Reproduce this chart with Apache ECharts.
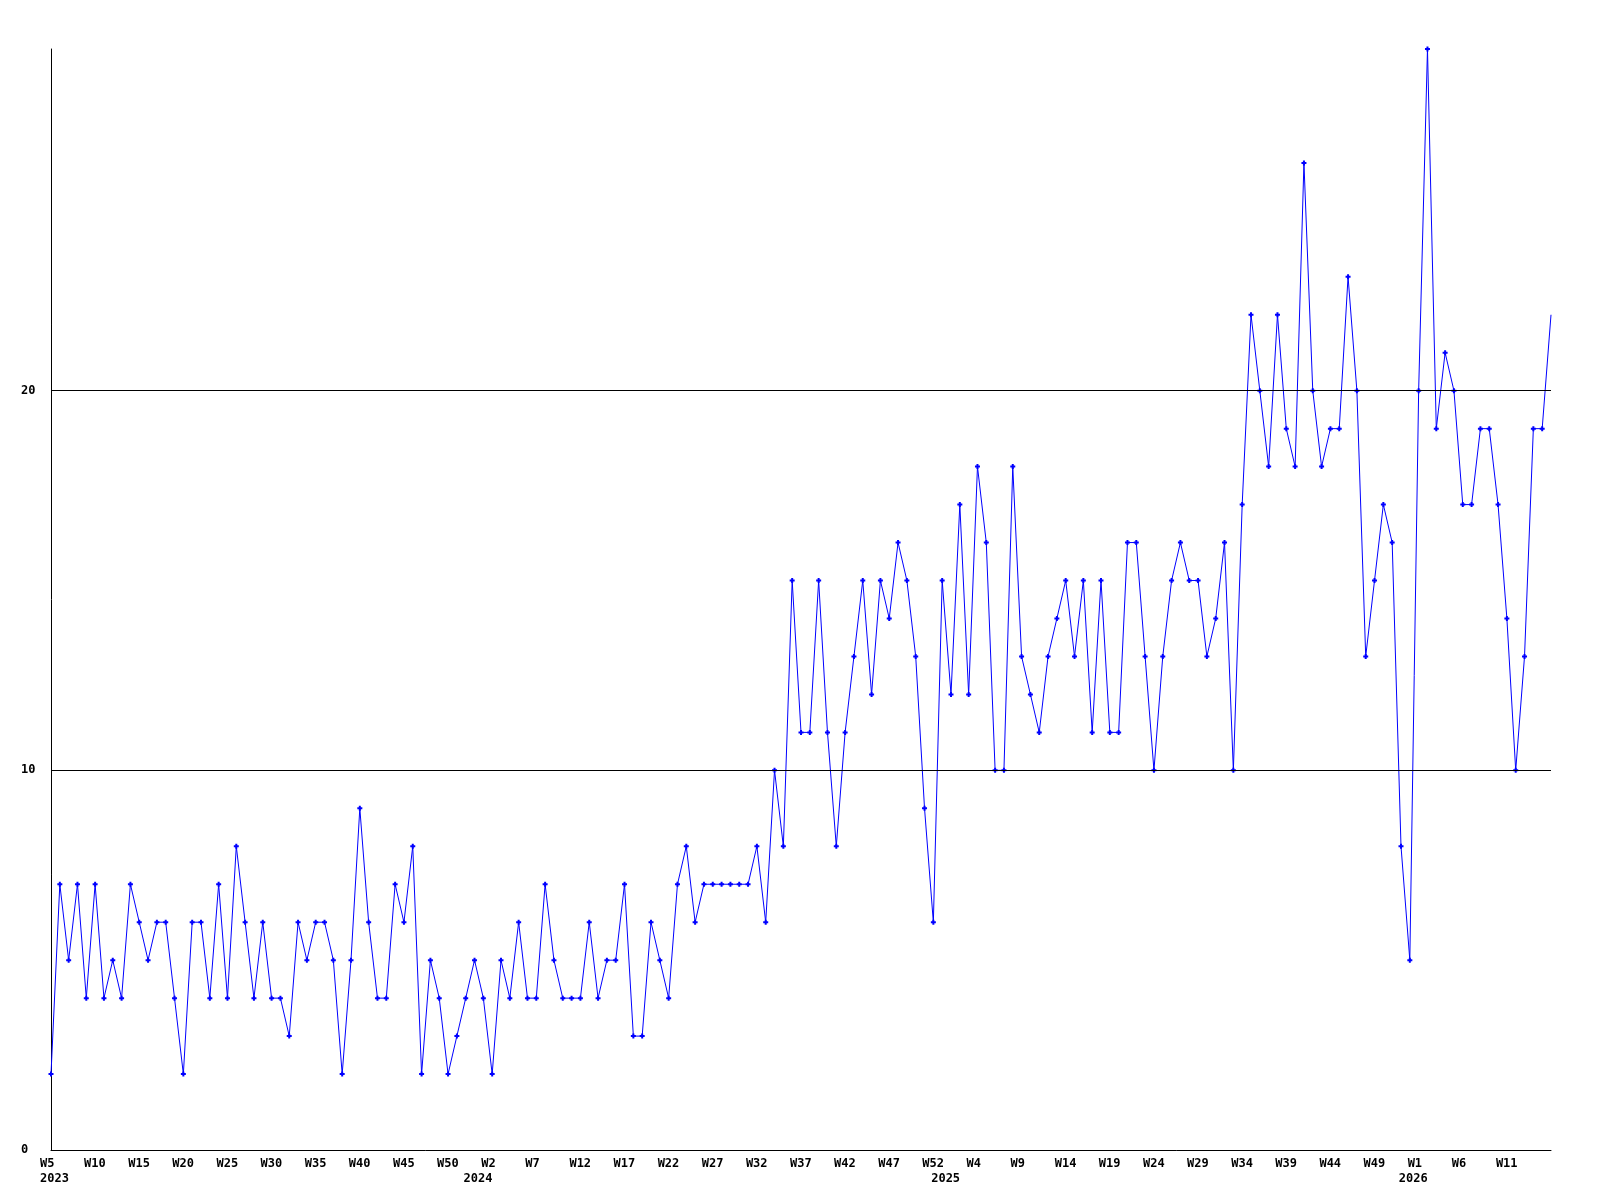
<!DOCTYPE html>
<html>
<head>
<meta charset="utf-8">
<script src="https://cdn.jsdelivr.net/npm/echarts@6/dist/echarts.min.js"></script>
<style>
html,body{margin:0;padding:0;background:#fff;}
#chart{width:1600px;height:1200px;}
</style>
</head>
<body>
<div id="chart"></div>
<script>
// Week ranges per year: [year, firstWeek, lastWeek]
const yearWeekRanges = [[2023, 5, 52], [2024, 0, 52], [2025, 0, 52], [2026, 0, 16]];

// Weekly values, in order from 2023 W5 to 2026 W16
const values2023 = [2,7,5,7,4,7,4,5,4,7,6,5,6,6,4,2,6,6,4,7,4,8,6,4,6,4,4,3,6,5,6,6,5,2,5,9,6,4,4,7,6,8,2,5,4,2,3,4];
const values2024 = [5,4,2,5,4,6,4,4,7,5,4,4,4,6,4,5,5,7,3,3,6,5,4,7,8,6,7,7,7,7,7,7,8,6,10,8,15,11,11,15,11,8,11,13,15,12,15,14,16,15,13,9,6];
const values2025 = [15,12,17,12,18,16,10,10,18,13,12,11,13,14,15,13,15,11,15,11,11,16,16,13,10,13,15,16,15,15,13,14,16,10,17,22,20,18,22,19,18,26,20,18,19,19,23,20,13,15,17,16,8];
const values2026 = [5,20,29,19,21,20,17,17,19,19,17,14,10,13,19,19,22];

// y-axis tick labels
const yTicks = [0, 10, 20];

const categories = [];
const yearStartIndex = {};
yearWeekRanges.forEach(([y, a, b]) => {
  yearStartIndex[categories.length] = y;
  for (let w = a; w <= b; w++) categories.push({year: y, week: w});
});
const values = [].concat(values2023, values2024, values2025, values2026);
const lastIndex = categories.length - 1;

const FONT = '"DejaVu Sans Mono", "Liberation Mono", monospace';

const chart = echarts.init(document.getElementById('chart'), null, {renderer: 'canvas'});
chart.setOption({
  animation: false,
  backgroundColor: '#ffffff',
  grid: {left: 51, right: 49, top: 49, bottom: 50, containLabel: false},
  xAxis: {
    type: 'category',
    boundaryGap: false,
    data: categories.map(c => c.year + '-W' + c.week),
    axisLine: {show: true, lineStyle: {color: '#000', width: 1}},
    axisTick: {show: false},
    splitLine: {show: false},
    axisLabel: {
      interval: (i) => i < lastIndex && (i % 5 === 0 || yearStartIndex[i] !== undefined),
      margin: 6,
      color: '#000',
      formatter: (v, i) => {
        if (i >= lastIndex) return '';
        const c = categories[i];
        const w = (i % 5 === 0) ? 'W' + c.week : ' ';
        const y = yearStartIndex[i] !== undefined ? String(yearStartIndex[i]) : ' ';
        return '{w|' + w + '}\n{y|' + y + '}';
      },
      rich: {
        w: {fontFamily: FONT, fontSize: 12, fontWeight: 'bold', color: '#000', width: 22, align: 'left', lineHeight: 15},
        y: {fontFamily: FONT, fontSize: 12, fontWeight: 'bold', color: '#000', width: 22, align: 'left', lineHeight: 15}
      }
    }
  },
  yAxis: {
    type: 'value',
    min: 0,
    max: 29,
    interval: 10,
    axisLine: {show: true, lineStyle: {color: '#000', width: 1}},
    axisTick: {show: false},
    splitLine: {show: false},
    axisLabel: {
      show: true,
      showMaxLabel: false,
      align: 'left',
      margin: 30,
      color: '#000',
      fontFamily: FONT,
      fontSize: 12,
      fontWeight: 'bold',
      formatter: (v) => yTicks.indexOf(v) >= 0 ? String(v) : ''
    }
  },
  series: [{
    type: 'line',
    data: values,
    showSymbol: true,
    showAllSymbol: true,
    symbol: 'path://M1.5,0H3.5V1.5H5V3.5H3.5V5H1.5V3.5H0V1.5H1.5Z',
    symbolSize: (val, params) => params.dataIndex === lastIndex ? 0 : 5,
    itemStyle: {color: '#0000ff'},
    lineStyle: {color: '#0000ff', width: 1},
    markLine: {
      silent: true,
      symbol: ['none', 'none'],
      label: {show: false},
      lineStyle: {color: '#000', width: 1, type: 'solid'},
      data: yTicks.filter(t => t > 0).map(t => ({yAxis: t}))
    }
  }]
});
</script>
</body>
</html>
